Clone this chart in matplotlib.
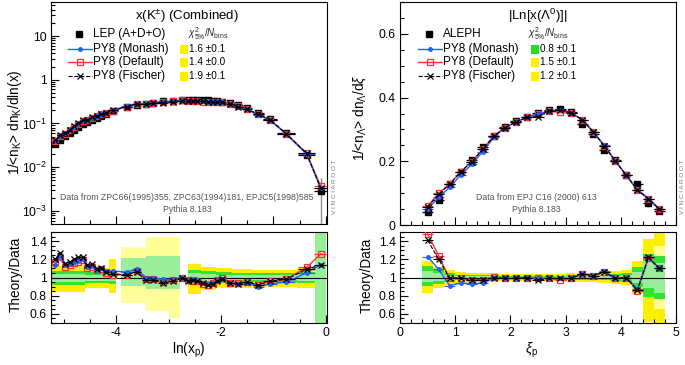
import numpy as np
import matplotlib
matplotlib.use("Agg")
import matplotlib.pyplot as plt
from matplotlib.lines import Line2D
from matplotlib.patches import Rectangle
from matplotlib.ticker import FixedLocator, MultipleLocator, LogLocator, NullFormatter, FuncFormatter

plt.rcParams['font.family'] = ['Liberation Sans', 'DejaVu Sans']
plt.rcParams['mathtext.fontset'] = 'custom'
plt.rcParams['mathtext.rm'] = 'Liberation Sans'
plt.rcParams['mathtext.it'] = 'Liberation Sans:italic'
plt.rcParams['mathtext.bf'] = 'Liberation Sans:bold'
plt.rcParams['mathtext.sf'] = 'Liberation Sans'

# ---------------- Left panel data: x(K+-) combined ----------------
k_x = [-5.16, -5.07, -4.97, -4.88, -4.80, -4.72, -4.63, -4.55, -4.46, -4.37, -4.28, -4.19,
       -4.06, -3.80, -3.61, -3.43, -3.29, -3.11, -2.92, -2.75, -2.62, -2.54, -2.45, -2.35,
       -2.25, -2.16, -2.07, -1.98, -1.83, -1.67, -1.50, -1.29, -1.07, -0.76, -0.37, -0.10]
k_data = [0.034, 0.042, 0.052, 0.062, 0.072, 0.083, 0.095, 0.107, 0.120, 0.135, 0.150, 0.165,
          0.190, 0.235, 0.260, 0.280, 0.300, 0.320, 0.330, 0.335, 0.340, 0.340, 0.340, 0.340,
          0.335, 0.330, 0.320, 0.310, 0.290, 0.260, 0.222, 0.175, 0.128, 0.060, 0.019, 0.0029]
k_err = [0.002, 0.002, 0.003, 0.003, 0.004, 0.004, 0.005, 0.005, 0.006, 0.006, 0.007, 0.008,
         0.009, 0.030, 0.035, 0.045, 0.050, 0.055, 0.060, 0.012, 0.012, 0.011, 0.011, 0.010,
         0.010, 0.010, 0.009, 0.009, 0.008, 0.008, 0.007, 0.006, 0.005, 0.003, 0.001, 0.0027]
k_monash = [1.14, 1.24, 1.15, 1.15, 1.17, 1.18, 1.20, 1.12, 1.13, 1.08, 1.10, 1.07, 1.07, 1.06,
            1.09, 1.00, 1.00, 0.98, 0.98, 1.00, 0.97, 0.98, 0.97, 0.94, 0.93, 0.94, 0.97, 0.98,
            0.94, 0.93, 0.94, 0.90, 0.93, 0.95, 1.05, 1.14]
k_default = [1.17, 1.22, 1.12, 1.14, 1.16, 1.17, 1.19, 1.10, 1.12, 1.08, 1.09, 1.05, 1.03, 1.03,
             1.07, 0.98, 0.98, 0.95, 0.97, 1.00, 0.97, 0.96, 0.96, 0.93, 0.92, 0.94, 0.97, 1.00,
             0.94, 0.94, 0.95, 0.92, 0.96, 0.98, 1.11, 1.26]
k_fischer = [1.20, 1.27, 1.15, 1.17, 1.20, 1.22, 1.23, 1.14, 1.15, 1.09, 1.10, 1.06, 1.04, 1.03,
             1.06, 0.97, 0.97, 0.94, 0.96, 0.99, 0.96, 0.97, 0.96, 0.94, 0.92, 0.93, 0.96, 0.98,
             0.94, 0.93, 0.95, 0.92, 0.96, 0.98, 1.09, 1.14]
# ratio-panel uncertainty bands (segments)
kb_x0 = [-5.24, -4.60, -4.13, -3.91, -3.42, -3.00, -2.62, -2.38, -2.10, -1.80, -1.40, -1.00, -0.55, -0.21]
kb_x1 = [-4.60, -4.13, -4.00, -3.42, -3.00, -2.78, -2.38, -2.10, -1.80, -1.40, -1.00, -0.55, -0.21, 0.00]
kb_y_lo = [0.84, 0.88, 0.83, 0.72, 0.63, 0.56, 0.82, 0.86, 0.88, 0.89, 0.90, 0.90, 0.88, 0.50]
kb_y_hi = [1.13, 1.10, 1.20, 1.33, 1.45, 1.45, 1.15, 1.12, 1.10, 1.09, 1.08, 1.08, 1.10, 1.50]
kb_py_lo = [0.92, 0.94, 0.93, 0.72, 0.63, 0.56, 0.92, 0.93, 0.94, 0.95, 0.95, 0.95, 0.94, 0.50]
kb_py_hi = [1.07, 1.06, 1.07, 1.33, 1.45, 1.45, 1.08, 1.07, 1.06, 1.05, 1.05, 1.05, 1.06, 1.50]
kb_g_lo = [0.92, 0.94, 0.93, 0.91, 0.87, 0.87, 0.92, 0.93, 0.94, 0.95, 0.95, 0.95, 0.94, 0.50]
kb_g_hi = [1.07, 1.06, 1.07, 1.21, 1.24, 1.24, 1.08, 1.07, 1.06, 1.05, 1.05, 1.05, 1.06, 1.50]
kb_pg_lo = [0.95, 0.96, 0.96, 0.91, 0.87, 0.87, 0.95, 0.96, 0.96, 0.97, 0.97, 0.97, 0.96, 0.50]
kb_pg_hi = [1.04, 1.03, 1.04, 1.21, 1.24, 1.24, 1.05, 1.04, 1.03, 1.03, 1.03, 1.03, 1.04, 1.50]
k_chi2 = ["1.6 \u00b10.1", "1.4 \u00b10.0", "1.9 \u00b10.1"]
k_chi2_col = ["#ffee00", "#ffee00", "#ffee00"]

# ---------------- Right panel data: |ln x(Lambda)| ----------------
l_x = [0.5, 0.7, 0.9, 1.1, 1.3, 1.5, 1.7, 1.9, 2.1, 2.3, 2.5, 2.7, 2.9, 3.1, 3.3, 3.5, 3.7,
       3.9, 4.1, 4.3, 4.5, 4.7]
l_data = [0.040, 0.080, 0.130, 0.167, 0.205, 0.245, 0.278, 0.309, 0.326, 0.338, 0.351, 0.362,
          0.365, 0.355, 0.318, 0.287, 0.234, 0.203, 0.156, 0.128, 0.068, 0.045]
l_err = [0.004, 0.005, 0.006, 0.007, 0.007, 0.007, 0.008, 0.008, 0.008, 0.008, 0.008, 0.008,
         0.008, 0.008, 0.008, 0.008, 0.008, 0.008, 0.007, 0.008, 0.010, 0.008]
l_monash = [1.23, 1.09, 0.91, 0.94, 0.93, 0.94, 0.99, 0.99, 0.99, 1.00, 0.99, 0.99, 0.99, 0.99,
            1.04, 1.02, 1.07, 0.99, 1.00, 0.87, 1.22, 1.10]
l_default = [1.48, 1.24, 0.99, 1.00, 0.97, 0.97, 1.01, 0.99, 0.99, 1.00, 0.99, 0.99, 0.97, 0.99,
             1.04, 1.02, 1.06, 0.99, 1.00, 0.85, 1.21, 1.10]
l_fischer = [1.41, 1.20, 0.99, 1.00, 0.97, 0.97, 1.00, 0.99, 0.99, 1.00, 0.97, 0.99, 0.99, 0.99,
             1.04, 1.02, 1.06, 0.99, 1.00, 0.86, 1.22, 1.10]
lb_y_lo = [0.83, 0.88, 0.92, 0.94, 0.95, 0.95, 0.95, 0.96, 0.96, 0.96, 0.96, 0.96, 0.96, 0.95,
           0.95, 0.95, 0.94, 0.93, 0.92, 0.82, 0.51, 0.50]
lb_y_hi = [1.18, 1.12, 1.08, 1.06, 1.05, 1.05, 1.05, 1.04, 1.04, 1.04, 1.04, 1.04, 1.04, 1.05,
           1.05, 1.05, 1.06, 1.07, 1.08, 1.18, 1.42, 1.50]
lb_py_lo = [0.91, 0.93, 0.95, 0.97, 0.97, 0.97, 0.97, 0.98, 0.98, 0.98, 0.98, 0.98, 0.98, 0.97,
            0.97, 0.97, 0.97, 0.96, 0.95, 0.90, 0.79, 0.65]
lb_py_hi = [1.13, 1.08, 1.05, 1.03, 1.03, 1.03, 1.03, 1.02, 1.02, 1.02, 1.02, 1.02, 1.02, 1.03,
            1.03, 1.03, 1.03, 1.04, 1.05, 1.12, 1.26, 1.35]
lb_g_lo = [0.91, 0.93, 0.95, 0.97, 0.97, 0.97, 0.97, 0.98, 0.98, 0.98, 0.98, 0.98, 0.98, 0.97,
           0.97, 0.97, 0.97, 0.96, 0.95, 0.90, 0.79, 0.76]
lb_g_hi = [1.13, 1.08, 1.05, 1.03, 1.03, 1.03, 1.03, 1.02, 1.02, 1.02, 1.02, 1.02, 1.02, 1.03,
           1.03, 1.03, 1.03, 1.04, 1.05, 1.12, 1.26, 1.24]
lb_pg_lo = [0.95, 0.96, 0.97, 0.98, 0.985, 0.985, 0.985, 0.99, 0.99, 0.99, 0.99, 0.99, 0.99, 0.985,
            0.985, 0.985, 0.98, 0.98, 0.97, 0.94, 0.89, 0.83]
lb_pg_hi = [1.07, 1.05, 1.03, 1.02, 1.015, 1.015, 1.015, 1.01, 1.01, 1.01, 1.01, 1.01, 1.01, 1.015,
            1.015, 1.015, 1.02, 1.02, 1.03, 1.06, 1.18, 1.16]
l_chi2 = ["0.8 \u00b10.1", "1.5 \u00b10.1", "1.2 \u00b10.1"]
l_chi2_col = ["#22dd22", "#ffee00", "#ffee00"]

# ---------------- styling ----------------
W, H = 685, 365
fig = plt.figure(figsize=(6.85, 3.65), dpi=100)

C_BLUE = "#2060ff"
C_RED = "#ff3030"
C_YEL = "#ffee00"
C_PYEL = "#ffff99"
C_GRN = "#33e033"
C_PGRN = "#99ee99"
TICK_FS = 8.8
LAB_FS = 9.8


def ax_px(x0, y0, x1, y1):
    return fig.add_axes([x0 / W, 1 - y1 / H, (x1 - x0) / W, (y1 - y0) / H])


def halfwidths(xc):
    xc = np.asarray(xc)
    mids = (xc[1:] + xc[:-1]) / 2
    edges = np.concatenate([[xc[0] - (mids[0] - xc[0])], mids, [xc[-1] + (xc[-1] - mids[-1])]])
    return (edges[1:] - edges[:-1]) / 2


def style_axis(ax):
    ax.tick_params(which='both', direction='in', top=False, right=False, labelsize=TICK_FS,
                   width=0.8, pad=3)
    ax.tick_params(which='major', length=6)
    ax.tick_params(which='minor', length=3)
    for s in ax.spines.values():
        s.set_linewidth(0.8)


def draw_mc(ax, x, y, xerr):
    ax.errorbar(x, y[0], xerr=xerr, color=C_BLUE, marker='o', ms=2.5, lw=1.0, elinewidth=0.8,
                capsize=0, zorder=6)
    ax.errorbar(x, y[1], xerr=xerr, color=C_RED, marker='s', ms=5, mfc='none', mew=0.9,
                lw=1.0, elinewidth=0.8, capsize=0, zorder=5)
    ax.errorbar(x, y[2], xerr=xerr, color='black', marker='x', ms=5, mew=0.9, lw=0.8,
                ls='--', elinewidth=0.8, capsize=0, zorder=7)


def draw_data(ax, x, y, yerr, xerr):
    ax.errorbar(x, y, yerr=yerr, fmt='none', ecolor='#8a8a8a', elinewidth=1.0, capsize=0, zorder=3)
    ax.errorbar(x, y, xerr=xerr, fmt='s', color='black', ms=4, elinewidth=0.9, capsize=0, zorder=4)


def draw_bands(ax, x0, x1, layers):
    x0 = np.asarray(x0); x1 = np.asarray(x1)
    for (lo, hi), col in layers:
        lo = np.asarray(lo); hi = np.asarray(hi)
        ax.bar((x0 + x1) / 2, hi - lo, bottom=lo, width=x1 - x0, color=col, lw=0, zorder=1)


def legend(x_mark, x_text, x_sq, ys, labels, datalabel, chi, chicol, x_chi_head):
    fs = 8.5
    fig.add_artist(Line2D([x_mark / W], [1 - ys[0] / H], marker='s', ms=4, color='black', ls='none'))
    fig.text(x_text / W, 1 - ys[0] / H, datalabel, fontsize=fs, va='center', ha='left')
    styles = [dict(color=C_BLUE, marker='o', ms=2.5, lw=1.0),
              dict(color=C_RED, marker='s', ms=5, mfc='none', mew=0.9, lw=1.0),
              dict(color='black', marker='x', ms=5, mew=0.9, lw=0.8, ls='--')]
    for i, st in enumerate(styles):
        y = 1 - ys[i + 1] / H
        fig.add_artist(Line2D([(x_mark - 11) / W, (x_mark + 13) / W], [y, y], **st,
                              markevery=[]))
        fig.add_artist(Line2D([(x_mark + 1) / W], [y], **{k: v for k, v in st.items() if k != 'ls'},
                              ls='none'))
        fig.text(x_text / W, y, labels[i], fontsize=fs, va='center', ha='left')
        fig.add_artist(Rectangle(((x_sq) / W, y - 4.5 / H), 7.5 / W, 9 / H, color=chicol[i], lw=0))
        fig.text((x_sq + 9) / W, y, chi[i], fontsize=7.2, va='center', ha='left')
    fig.text(x_chi_head / W, 1 - ys[0] / H, r"$\chi^{2}_{5\%}/N_{\rm bins}$", fontsize=7,
             va='center', ha='left', color='#222222')


labels = ["PY8 (Monash)", "PY8 (Default)", "PY8 (Fischer)"]

# ================= LEFT =================
axL = ax_px(51, 2, 327, 224)
axLr = ax_px(51, 232, 327, 323)
kx = np.asarray(k_x); kd = np.asarray(k_data)
khw = halfwidths(k_x)
kmc = [kd * np.asarray(k_monash), kd * np.asarray(k_default), kd * np.asarray(k_fischer)]

axL.set_yscale('log')
axL.set_xlim(-5.24, 0.02)
axL.set_ylim(5e-4, 60)
draw_mc(axL, kx, kmc, khw)
draw_data(axL, kx, kd, k_err, khw)
style_axis(axL)
axL.xaxis.set_major_locator(MultipleLocator(1))
axL.xaxis.set_minor_locator(MultipleLocator(0.5))
axL.set_xticklabels([])
axL.yaxis.set_major_locator(LogLocator(base=10, numticks=10))
axL.yaxis.set_minor_locator(LogLocator(base=10, subs=np.arange(2, 10), numticks=20))
axL.yaxis.set_minor_formatter(NullFormatter())


def logfmt(v, pos):
    e = int(round(np.log10(v)))
    if e == 0:
        return "1"
    if e == 1:
        return "10"
    return r"$10^{%d}$" % e


axL.yaxis.set_major_formatter(FuncFormatter(logfmt))

draw_bands(axLr, kb_x0, kb_x1, [((kb_y_lo, kb_y_hi), C_YEL), ((kb_py_lo, kb_py_hi), C_PYEL),
                                ((kb_g_lo, kb_g_hi), C_GRN), ((kb_pg_lo, kb_pg_hi), C_PGRN)])
axLr.axhline(1.0, color='black', lw=0.8, zorder=3)
draw_mc(axLr, kx, [k_monash, k_default, k_fischer], khw)
axLr.set_xlim(-5.24, 0.02)
axLr.set_ylim(0.5, 1.5)
style_axis(axLr)
axLr.xaxis.set_major_locator(FixedLocator([-4, -2, 0]))
axLr.xaxis.set_minor_locator(MultipleLocator(0.5))
axLr.yaxis.set_major_locator(FixedLocator([0.6, 0.8, 1.0, 1.2, 1.4]))
axLr.yaxis.set_minor_locator(MultipleLocator(0.05))
axLr.yaxis.set_major_formatter(FuncFormatter(lambda v, p: "%g" % round(v, 2)))
axLr.xaxis.set_major_formatter(FuncFormatter(lambda v, p: "%d" % round(v)))

fig.text(187 / W, 1 - 16 / H, r"x(K$^{\pm}$) (Combined)", fontsize=9.5, ha='center', va='center')
legend(79, 93, 180, [34, 49, 62, 76], labels, "LEP (A+D+O)", k_chi2, k_chi2_col, 188)
fig.text(187 / W, 1 - 197 / H, "Data from ZPC66(1995)355, ZPC63(1994)181, EPJC5(1998)585",
         fontsize=6.3, color='#555555', ha='center', va='center')
fig.text(187 / W, 1 - 209 / H, "Pythia 8.183", fontsize=6.3, color='#555555', ha='center',
         va='center')
fig.text(15 / W, 1 - 122 / H, r"1/<n$_{\rm K}$> dn$_{\rm K}$/dln(x)", fontsize=LAB_FS,
         rotation=90, ha='center', va='center')
fig.text(16 / W, 1 - 274 / H, "Theory/Data", fontsize=LAB_FS, rotation=90, ha='center', va='center')
fig.text(189 / W, 1 - 350 / H, r"ln(x$_{\rm p}$)", fontsize=LAB_FS, ha='center', va='center')
fig.text(334 / W, 1 - 187 / H, "V I N C I A R O O T", fontsize=4.6, color='#777777', rotation=90,
         ha='center', va='center')

# ================= RIGHT =================
axR = ax_px(400, 2, 676, 225)
axRr = ax_px(400, 232, 676, 323)
lx = np.asarray(l_x); ld = np.asarray(l_data)
lhw = halfwidths(l_x)
lmc = [ld * np.asarray(l_monash), ld * np.asarray(l_default), ld * np.asarray(l_fischer)]
axR.set_xlim(0, 5)
axR.set_ylim(0, 0.7)
draw_mc(axR, lx, lmc, lhw)
draw_data(axR, lx, ld, l_err, lhw)
style_axis(axR)
axR.xaxis.set_major_locator(MultipleLocator(1))
axR.xaxis.set_minor_locator(MultipleLocator(0.2))
axR.set_xticklabels([])
axR.yaxis.set_major_locator(FixedLocator([0, 0.2, 0.4, 0.6]))
axR.yaxis.set_minor_locator(MultipleLocator(0.05))
axR.yaxis.set_major_formatter(FuncFormatter(lambda v, p: "%g" % round(v, 2)))

l_x0 = lx - lhw
l_x1 = lx + lhw
draw_bands(axRr, l_x0, l_x1, [((lb_y_lo, lb_y_hi), C_YEL), ((lb_py_lo, lb_py_hi), C_PYEL),
                              ((lb_g_lo, lb_g_hi), C_GRN), ((lb_pg_lo, lb_pg_hi), C_PGRN)])
axRr.axhline(1.0, color='black', lw=0.8, zorder=3)
draw_mc(axRr, lx, [l_monash, l_default, l_fischer], lhw)
axRr.set_xlim(0, 5)
axRr.set_ylim(0.5, 1.5)
style_axis(axRr)
axRr.xaxis.set_major_locator(MultipleLocator(1))
axRr.xaxis.set_minor_locator(MultipleLocator(0.2))
axRr.yaxis.set_major_locator(FixedLocator([0.6, 0.8, 1.0, 1.2, 1.4]))
axRr.yaxis.set_minor_locator(MultipleLocator(0.05))
axRr.yaxis.set_major_formatter(FuncFormatter(lambda v, p: "%g" % round(v, 2)))
axRr.xaxis.set_major_formatter(FuncFormatter(lambda v, p: "%d" % round(v)))

fig.text(538 / W, 1 - 16 / H, r"|Ln[x($\Lambda^{0}$)]|", fontsize=9.5, ha='center', va='center')
legend(429, 443, 531, [34, 49, 62, 76], labels, "ALEPH", l_chi2, l_chi2_col, 528)
fig.text(536 / W, 1 - 197 / H, "Data from EPJ C16 (2000) 613", fontsize=6.3, color='#555555',
         ha='center', va='center')
fig.text(536 / W, 1 - 209 / H, "Pythia 8.183", fontsize=6.3, color='#555555', ha='center',
         va='center')
fig.text(360 / W, 1 - 118 / H, r"1/<n$_{\Lambda}$> dn$_{\Lambda}$/d$\xi$", fontsize=LAB_FS,
         rotation=90, ha='center', va='center')
fig.text(367 / W, 1 - 275 / H, "Theory/Data", fontsize=LAB_FS, rotation=90, ha='center', va='center')
fig.text(531 / W, 1 - 350 / H, r"$\xi_{\rm p}$", fontsize=LAB_FS, ha='center', va='center')
fig.text(682 / W, 1 - 187 / H, "V I N C I A R O O T", fontsize=4.6, color='#777777', rotation=90,
         ha='center', va='center')

fig.savefig("out.png", dpi=100)
